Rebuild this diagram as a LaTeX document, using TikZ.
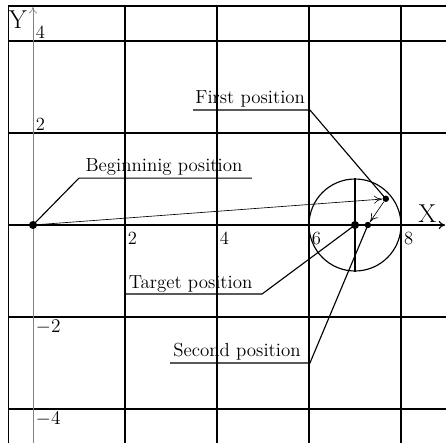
\documentclass[tikz,border=0pt]{standalone}
\usetikzlibrary{
    arrows.meta,
    calc
}
\tikzset{
  every path/.style={
    black,
    line width=0.7pt
  },
  every node/.style={
    inner sep=1.5pt
  },
  pt/.style={circle, fill=black, inner sep=0pt, minimum size=5pt},
  lbl/.style={font=\fontsize{11.7}{14}\selectfont, inner sep=0pt, anchor=base west},
  num/.style={font=\fontsize{11.5}{13}\selectfont},
  axlbl/.style={font=\fontsize{16}{18}\selectfont, inner sep=0pt},
  thinarrow/.style={line width=0.4pt, -{To[length=5pt,width=5pt]}}
}

\begin{document}
\begin{tikzpicture}
    \useasboundingbox (-0.717,-4.739) rectangle (8.978,4.891);

    % 格子
    \draw (-0.54,-4.739) -- (-0.54,4.76) -- (8.978,4.76);
    \foreach \x in {2,4,6,8}
        \draw (\x,-4.739) -- (\x,4.76);
    \foreach \y in {4,2,-2,-4}
        \draw (-0.54,\y) -- (8.978,\y);

    % 軸
    \draw[-{To[length=4pt,width=5pt]}] (-0.54,0) -- (8.96,0);
    \draw[gray, line width=0.4pt, -{To[length=4pt,width=5pt]}] (0,-4.739) -- (0,4.74);
    \node[axlbl] (X) at (8.57,0.25) {X};
    \node[axlbl] (Y) at (-0.33,4.46) {Y};

    % 目盛
    \foreach \x in {2,4,6,8}
        \node[num, anchor=north west] (x\x) at (\x,-0.09) {\x};
    \node[num, above right] (y4) at (0,4) {4};
    \node[num, above right] (y2) at (0,2) {2};
    \node[num, below right] (ym2) at (0,-2) {$-2$};
    \node[num, below right] (ym4) at (0,-4) {$-4$};

    % 点
    \node[pt] (P0) at (0,0) {};
    \node[pt] (PT) at (7,0) {};
    \node[pt, minimum size=4pt] (PS) at (7.28,0) {};
    \node[pt, minimum size=4pt] (PF) at (7.67,0.57) {};
    \node[draw, circle, inner sep=0pt, minimum size=2cm] (C) at (7,0) {};
    \draw (C.north) -- (C.south);

    % 矢印
    \draw[thinarrow] (P0) -- (PF);
    \draw[thinarrow] (PF) -- (PS);

    % 引出線
    \coordinate (bL) at (1.0,1.02);
    \coordinate (bR) at (4.76,1.02);
    \node[lbl] (B) at (1.13,1.17) {Beginninig position};
    \draw (bR) -- (bL) -- (P0.center);

    \coordinate (fL) at (3.48,2.5);
    \coordinate (fR) at (6.02,2.5);
    \node[lbl] (F) at (3.52,2.65) {First position};
    \draw (fL) -- (fR) -- (PF.center);

    \coordinate (tL) at (2.0,-1.5);
    \coordinate (tR) at (4.98,-1.5);
    \node[lbl] (T) at (2.07,-1.37) {Target position};
    \draw (tL) -- (tR) -- (PT.center);

    \coordinate (sL) at (2.98,-3.0);
    \coordinate (sR) at (6.02,-3.0);
    \node[lbl] (S) at (3.04,-2.85) {Second position};
    \draw (sL) -- (sR) -- (PS.center);
\end{tikzpicture}
\end{document}
